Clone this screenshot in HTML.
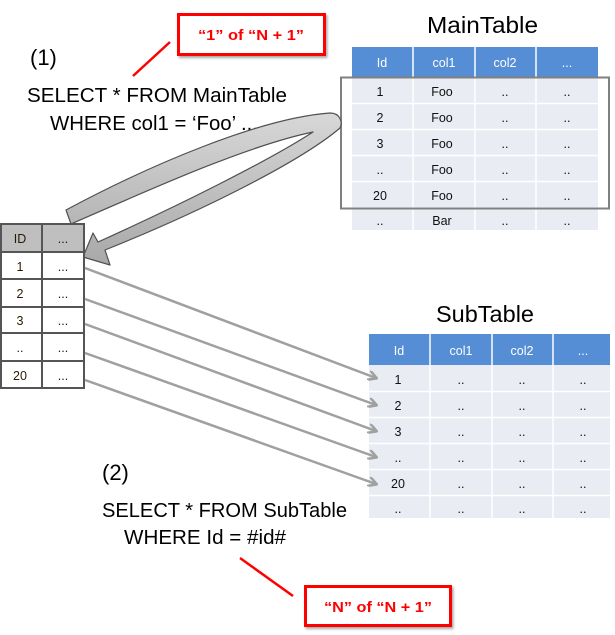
<!DOCTYPE html>
<html><head><meta charset="utf-8"><style>
html,body{margin:0;padding:0;background:#fff;}
svg{display:block;}
text{font-family:"Liberation Sans",sans-serif;}
</style></head><body>
<svg width="615" height="635" viewBox="0 0 615 635" xmlns="http://www.w3.org/2000/svg">
<defs>
<linearGradient id="g1" x1="0" y1="0" x2="0" y2="1">
<stop offset="0" stop-color="#d8d8d8"/><stop offset="1" stop-color="#a8a8a8"/>
</linearGradient>
<filter id="sh" x="-10%" y="-10%" width="130%" height="130%"><feDropShadow dx="1.5" dy="2" stdDeviation="1.2" flood-color="#000" flood-opacity="0.35"/></filter>
<marker id="ah" markerWidth="10" markerHeight="10" refX="8" refY="5" orient="auto" markerUnits="userSpaceOnUse">
<path d="M0,0 L9,5 L0,10" fill="none" stroke="#a0a0a0" stroke-width="2.5"/>
</marker>
</defs>

<!-- MainTable -->
<text x="427" y="33" font-size="23" fill="#000" textLength="111" lengthAdjust="spacingAndGlyphs">MainTable</text>
<g>
<rect x="352" y="47" width="246" height="30" fill="#558ed5"/>
<rect x="352" y="77" width="246" height="153" fill="#e9ecf3"/>
<g stroke="#fff" stroke-width="1.5">
<line x1="413" y1="47" x2="413" y2="230"/><line x1="475" y1="47" x2="475" y2="230"/><line x1="536" y1="47" x2="536" y2="230"/>
<line x1="352" y1="103.5" x2="598" y2="103.5"/><line x1="352" y1="129.5" x2="598" y2="129.5"/><line x1="352" y1="155.5" x2="598" y2="155.5"/><line x1="352" y1="181.5" x2="598" y2="181.5"/><line x1="352" y1="208" x2="598" y2="208"/>
</g>
<g font-size="12.5" fill="#fff" text-anchor="middle">
<text x="382" y="67">Id</text><text x="444" y="67">col1</text><text x="505" y="67">col2</text><text x="567" y="67">...</text>
</g>
<g font-size="12.5" fill="#111" text-anchor="middle">
<text x="380" y="96">1</text><text x="442" y="96">Foo</text><text x="505" y="96">..</text><text x="567" y="96">..</text>
<text x="380" y="122">2</text><text x="442" y="122">Foo</text><text x="505" y="122">..</text><text x="567" y="122">..</text>
<text x="380" y="148">3</text><text x="442" y="148">Foo</text><text x="505" y="148">..</text><text x="567" y="148">..</text>
<text x="380" y="174">..</text><text x="442" y="174">Foo</text><text x="505" y="174">..</text><text x="567" y="174">..</text>
<text x="380" y="200">20</text><text x="442" y="200">Foo</text><text x="505" y="200">..</text><text x="567" y="200">..</text>
<text x="380" y="225">..</text><text x="442" y="225">Bar</text><text x="505" y="225">..</text><text x="567" y="225">..</text>
</g>
<rect x="341" y="77.5" width="268" height="131" fill="none" stroke="#808080" stroke-width="2"/>
</g>

<!-- red callout 1 -->
<line x1="133" y1="76" x2="170" y2="42" stroke="#ff0000" stroke-width="2.5"/>
<rect x="178.5" y="14.5" width="146" height="40" fill="#fff" stroke="#ff0000" stroke-width="3" filter="url(#sh)"/>
<text x="251" y="40" font-size="15" font-weight="bold" fill="#ff0000" text-anchor="middle" textLength="106" lengthAdjust="spacingAndGlyphs">“1” of “N + 1”</text>

<!-- query 1 -->
<text x="30" y="65" font-size="22" fill="#000">(1)</text>
<text x="27" y="102" font-size="20" fill="#000" textLength="260" lengthAdjust="spacingAndGlyphs">SELECT *  FROM MainTable</text>
<text x="50" y="130" font-size="20" fill="#000" textLength="208" lengthAdjust="spacingAndGlyphs">WHERE col1 = ‘Foo’ ...</text>

<!-- curved big arrow -->
<path d="M66,210 C150,165 260,118 330,113 C340,113 343,122 340,128 C300,162 200,212 105,250 L110,265 L83,257 L93,233 L98,242 C180,205 270,160 313,132 C250,145 160,185 71,224 Z" fill="url(#g1)" stroke="#505050" stroke-width="1.2" stroke-linejoin="round"/>

<!-- left table -->
<rect x="0" y="224" width="84" height="28" fill="#bfbfbf"/>
<rect x="0" y="252" width="84" height="136" fill="#fff"/>
<g stroke="#555" stroke-width="2" fill="none">
<rect x="1" y="224" width="83" height="164"/>
<line x1="42" y1="224" x2="42" y2="388"/>
<line x1="0" y1="252" x2="84" y2="252"/><line x1="0" y1="279" x2="84" y2="279"/><line x1="0" y1="307" x2="84" y2="307"/><line x1="0" y1="333" x2="84" y2="333"/><line x1="0" y1="361" x2="84" y2="361"/>
</g>
<g font-size="12.5" fill="#2a1a00" text-anchor="middle">
<text x="20" y="243">ID</text><text x="63" y="243">...</text>
<text x="20" y="271">1</text><text x="63" y="271">...</text>
<text x="20" y="298">2</text><text x="63" y="298">...</text>
<text x="20" y="325">3</text><text x="63" y="325">...</text>
<text x="20" y="352">..</text><text x="63" y="352">...</text>
<text x="20" y="380">20</text><text x="63" y="380">...</text>
</g>

<!-- SubTable -->
<text x="436" y="322" font-size="23" fill="#000" textLength="98" lengthAdjust="spacingAndGlyphs">SubTable</text>
<rect x="369" y="334" width="241" height="31" fill="#558ed5"/>
<rect x="369" y="365" width="241" height="153" fill="#e9ecf3"/>
<g stroke="#fff" stroke-width="1.5">
<line x1="430" y1="334" x2="430" y2="518"/><line x1="492" y1="334" x2="492" y2="518"/><line x1="553" y1="334" x2="553" y2="518"/>
<line x1="369" y1="391.5" x2="610" y2="391.5"/><line x1="369" y1="417.5" x2="610" y2="417.5"/><line x1="369" y1="443.5" x2="610" y2="443.5"/><line x1="369" y1="469.5" x2="610" y2="469.5"/><line x1="369" y1="495.5" x2="610" y2="495.5"/>
</g>
<g font-size="12.5" fill="#fff" text-anchor="middle">
<text x="399" y="355">Id</text><text x="461" y="355">col1</text><text x="522" y="355">col2</text><text x="583" y="355">...</text>
</g>
<g font-size="12.5" fill="#111" text-anchor="middle">
<text x="398" y="384">1</text><text x="461" y="384">..</text><text x="522" y="384">..</text><text x="583" y="384">..</text>
<text x="398" y="410">2</text><text x="461" y="410">..</text><text x="522" y="410">..</text><text x="583" y="410">..</text>
<text x="398" y="436">3</text><text x="461" y="436">..</text><text x="522" y="436">..</text><text x="583" y="436">..</text>
<text x="398" y="462">..</text><text x="461" y="462">..</text><text x="522" y="462">..</text><text x="583" y="462">..</text>
<text x="398" y="488">20</text><text x="461" y="488">..</text><text x="522" y="488">..</text><text x="583" y="488">..</text>
<text x="398" y="513">..</text><text x="461" y="513">..</text><text x="522" y="513">..</text><text x="583" y="513">..</text>
</g>

<!-- straight arrows -->
<g stroke="#a0a0a0" stroke-width="2.5" fill="none" marker-end="url(#ah)">
<line x1="85" y1="268" x2="376" y2="378"/>
<line x1="85" y1="299" x2="376" y2="405"/>
<line x1="85" y1="324" x2="376" y2="431"/>
<line x1="85" y1="353" x2="376" y2="457"/>
<line x1="85" y1="380" x2="376" y2="484"/>
</g>

<!-- query 2 -->
<text x="102" y="480" font-size="22" fill="#000">(2)</text>
<text x="102" y="517" font-size="20" fill="#000" textLength="245" lengthAdjust="spacingAndGlyphs">SELECT *  FROM SubTable</text>
<text x="124" y="544" font-size="20" fill="#000" textLength="162" lengthAdjust="spacingAndGlyphs">WHERE Id = #id#</text>

<!-- red callout 2 -->
<line x1="240" y1="558" x2="293" y2="596" stroke="#ff0000" stroke-width="2.5"/>
<rect x="305.5" y="586.5" width="145" height="39" fill="#fff" stroke="#ff0000" stroke-width="3" filter="url(#sh)"/>
<text x="378" y="612" font-size="15" font-weight="bold" fill="#ff0000" text-anchor="middle" textLength="108" lengthAdjust="spacingAndGlyphs">“N” of “N + 1”</text>
</svg>
</body></html>
